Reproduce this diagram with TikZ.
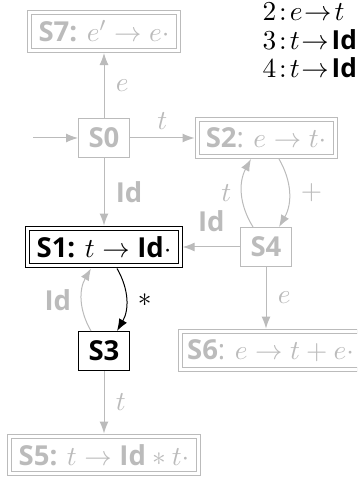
\documentclass[tikz,border=0pt]{standalone}
\usepackage{fontspec}
\setsansfont{Open Sans}
\usetikzlibrary{positioning,arrows.meta}
\definecolor{lrgray}{HTML}{BBBBBB}
\newcommand{\tokid}{\textsf{\bfseries Id}}

\begin{document}
\begin{tikzpicture}[on grid, node distance=42pt,
    every node/.style={font=\fontsize{11}{13}\selectfont\sffamily},
    statebox/.style={draw, minimum width=20.4pt, minimum height=15.6pt, inner xsep=4pt},
    itembox/.style={draw, double, double distance=1.2pt, minimum height=14.8pt, inner xsep=3.5pt, outer sep=1pt},
    rule/.style={anchor=base west, inner sep=0pt, font=\fontsize{10.5}{12}\selectfont},
    faded/.style={lrgray},
    edge/.style={-{Latex}}]
  \useasboundingbox (-41.6pt,55.2pt) rectangle (101.2pt,-136.8pt);
  \clip (-41.6pt,55.2pt) rectangle (101.2pt,-136.8pt);
  % states, left column
  \node (s0) [statebox, faded] {\textbf{S0}};
  \node (s7) [itembox, faded, above=42.6pt of s0] {\textbf{S7:} $e' \rightarrow e\cdot$};
  \node (s1) [itembox, below=43.6pt of s0] {\textbf{S1:} $t \rightarrow \tokid\cdot$};
  \node (s3) [statebox, below=41.6pt of s1] {\textbf{S3}};
  \node (s5) [itembox, faded, below=41.6pt of s3] {\textbf{S5:} $t \rightarrow \tokid * t\cdot$};
  % states, right column
  \node (s2) [itembox, faded, right=64.8pt of s0] {\textbf{S2}: $e \rightarrow t\cdot$};
  \node (s4) [statebox, faded, below=43.6pt of s2] {\textbf{S4}};
  \node (s6) [itembox, faded, inner xsep=2.8pt, below=41.4pt of s4, xshift=1.8pt] {\textbf{S6}: $e \rightarrow t + e\cdot$};
  \coordinate[left=18pt of s0.west] (start);
  % grammar
  \node (rule2) [rule] at (63.2pt,47pt) {$2\mkern2mu{:}\mkern2mu e\mkern1mu{\rightarrow}\mkern2mu t$};
  \node (rule3) [below=11.5pt of rule2.base west, rule] {$3\mkern2mu{:}\mkern2mu t\mkern1mu{\rightarrow}\mkern2mu \tokid$};
  \node (rule4) [below=11.5pt of rule3.base west, rule] {$4\mkern2mu{:}\mkern2mu t\mkern1mu{\rightarrow}\mkern2mu \tokid$};
  % transitions
  \draw[edge, faded] (start) -- (s0);
  \draw[edge, faded] (s0) -- node[right=1.2pt] {$e$} (s7);
  \draw[edge, faded] (s0) -- node[above] {$t$} (s2);
  \draw[edge, faded] (s0) -- node[right=1.2pt] {\tokid} (s1);
  \draw[edge, faded] (s4) -- node[above=2.5pt] {\tokid} (s1);
  \draw[edge, faded] ([xshift=-5.2pt]s4.north) to[bend left=30] node[left=0.8pt] {$t$} ([xshift=-6pt]s2.south);
  \draw[edge, faded] ([xshift=5.2pt]s2.south) to[bend left=30] node[right=1.2pt] {$+$} ([xshift=5.2pt]s4.north);
  \draw[edge, faded] (s4) -- node[right=1.2pt] {$e$} (s4 |- s6.north);
  \draw[edge, faded] ([xshift=-5.2pt]s3.north) to[bend left=30] node[left=0.8pt] {\tokid} ([xshift=-5.2pt]s1.south);
  \draw[edge] ([xshift=5.2pt]s1.south) to[bend left=30] node[right=1.2pt] {$*$} ([xshift=5.2pt]s3.north);
  \draw[edge, faded] (s3) -- node[right=1.2pt] {$t$} (s5);
\end{tikzpicture}
\end{document}
